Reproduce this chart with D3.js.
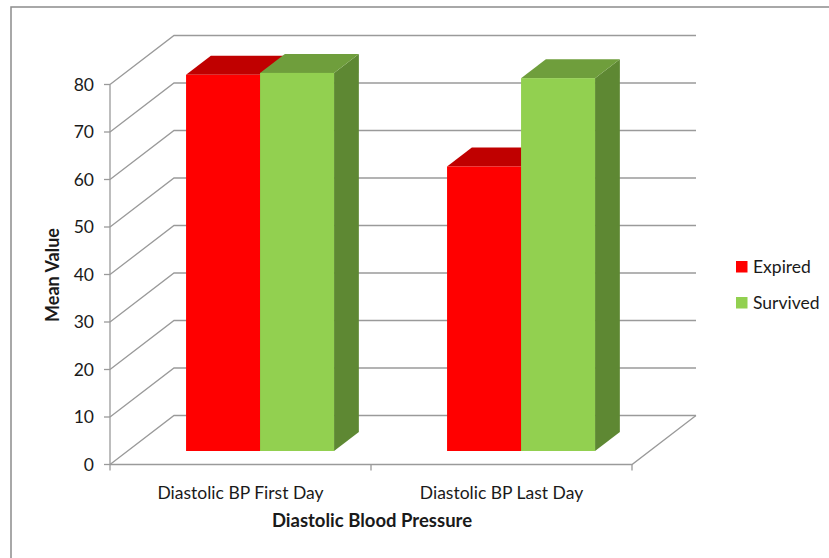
<!DOCTYPE html>
<html>
<head>
<meta charset="utf-8">
<script src="https://cdn.jsdelivr.net/npm/d3@7/dist/d3.min.js"></script>
<style>
  html, body { margin: 0; padding: 0; background: #fff; }
  svg { display: block; }
  text { font-family: Lato, "Open Sans", sans-serif; fill: #1a1a1a; }
</style>
</head>
<body>
<svg id="chart" width="829" height="558"></svg>
<script>
// Mean diastolic blood pressure by outcome
const categories = ["Diastolic BP First Day", "Diastolic BP Last Day"];
const seriesNames = ["Expired", "Survived"];
const expired = [79.2, 59.9];
const survived = [79.6, 78.5];
const yTicks = [0, 10, 20, 30, 40, 50, 60, 70, 80];

const seriesValues = [expired, survived];
const colors = {
  Expired:  { front: "#ff0000", top: "#c00000", side: "#a30000" },
  Survived: { front: "#92d050", top: "#6f9e3c", side: "#5e8833" }
};

const svg = d3.select("#chart");
const W = 829, H = 558;

// 3D box geometry: front plane and depth offset of the back wall
const left = 110, right = 632;
const DX = 64, DY = 49;
const dFront = 0.2755, dBack = 0.663;   // depth of the bar faces (0 = front, 1 = back wall)

const y = d3.scaleLinear().domain([0, 80]).range([464.5, 84.5]);
const x0 = d3.scaleBand().domain(categories).range([left, right]).padding(0);
const x1 = d3.scaleBand().domain(seriesNames).range([0, x0.bandwidth()])
  .paddingInner(0).paddingOuter(0.7635).align(0.517);

const P = (x, v, d) => [x + DX * d, y(v) - DY * d];
const line = d3.line();
const gridColor = "#9a9a9a";

// outer frame
svg.append("rect")
  .attr("x", 11).attr("y", 7).attr("width", W).attr("height", H)
  .attr("fill", "none").attr("stroke", "#8c8c8c").attr("stroke-width", 1.5);

const grid = svg.append("g").attr("fill", "none").attr("stroke", gridColor).attr("stroke-width", 1.3);

// side wall diagonals and back wall gridlines
yTicks.forEach(v => {
  grid.append("path").attr("d", line([P(left, v, 0), P(left, v, 1), P(right, v, 1)]));
});
// floor: front edge and right edge
grid.append("path").attr("d", line([P(left, 0, 0), P(right, 0, 0), P(right, 0, 1)]));
// value axis
grid.append("path").attr("d", line([P(left, 0, 0), P(left, 80, 0)]));
// value ticks
yTicks.forEach(v => {
  grid.append("path").attr("d", line([[left - 6, y(v)], [left, y(v)]]));
});
// category ticks
[left, left + x0.bandwidth(), right].forEach(xx => {
  grid.append("path").attr("d", line([[xx, y(0)], [xx, y(0) + 6]]));
});

// value tick labels
svg.append("g").selectAll("text").data(yTicks).join("text")
  .attr("x", 94).attr("y", d => y(d)).attr("dy", "0.36em")
  .attr("text-anchor", "end").attr("font-size", 17.5)
  .text(d => d);

// category labels
svg.append("g").selectAll("text").data(categories).join("text")
  .attr("x", d => x0(d) + x0.bandwidth() / 2).attr("y", 499)
  .attr("text-anchor", "middle").attr("font-size", 17.5)
  .text(d => d);

// axis titles
svg.append("text")
  .attr("x", (left + right) / 2 + 1).attr("y", 527)
  .attr("text-anchor", "middle").attr("font-size", 18.5).attr("font-weight", "bold")
  .text("Diastolic Blood Pressure");
svg.append("text")
  .attr("transform", "translate(59,275) rotate(-90)")
  .attr("text-anchor", "middle").attr("font-size", 18).attr("font-weight", "bold")
  .text("Mean Value");

// 3D columns
const bars = svg.append("g");
categories.forEach((cat, ci) => {
  seriesNames.forEach((s, si) => {
    const v = seriesValues[si][ci];
    const xa = x0(cat) + x1(s), xb = xa + x1.bandwidth();
    const c = colors[s];
    const g = bars.append("g");
    // right side face
    g.append("path").attr("fill", c.side)
      .attr("d", line([P(xb, 0, dFront), P(xb, v, dFront), P(xb, v, dBack), P(xb, 0, dBack)]) + "Z");
    // top face
    g.append("path").attr("fill", c.top)
      .attr("d", line([P(xa, v, dFront), P(xb, v, dFront), P(xb, v, dBack), P(xa, v, dBack)]) + "Z");
    // front face
    const [fx, fy] = P(xa, v, dFront);
    const [, fy0] = P(xa, 0, dFront);
    g.append("rect").attr("fill", c.front)
      .attr("x", fx).attr("y", fy).attr("width", x1.bandwidth()).attr("height", fy0 - fy);
  });
});

// legend
const legend = svg.append("g").selectAll("g").data(seriesNames).join("g")
  .attr("transform", (d, i) => `translate(736,${261 + i * 36})`);
legend.append("rect").attr("width", 11.5).attr("height", 11.5)
  .attr("fill", d => colors[d].front);
legend.append("text").attr("x", 17).attr("y", 11.5)
  .attr("font-size", 17.5).text(d => d);
</script>
</body>
</html>
